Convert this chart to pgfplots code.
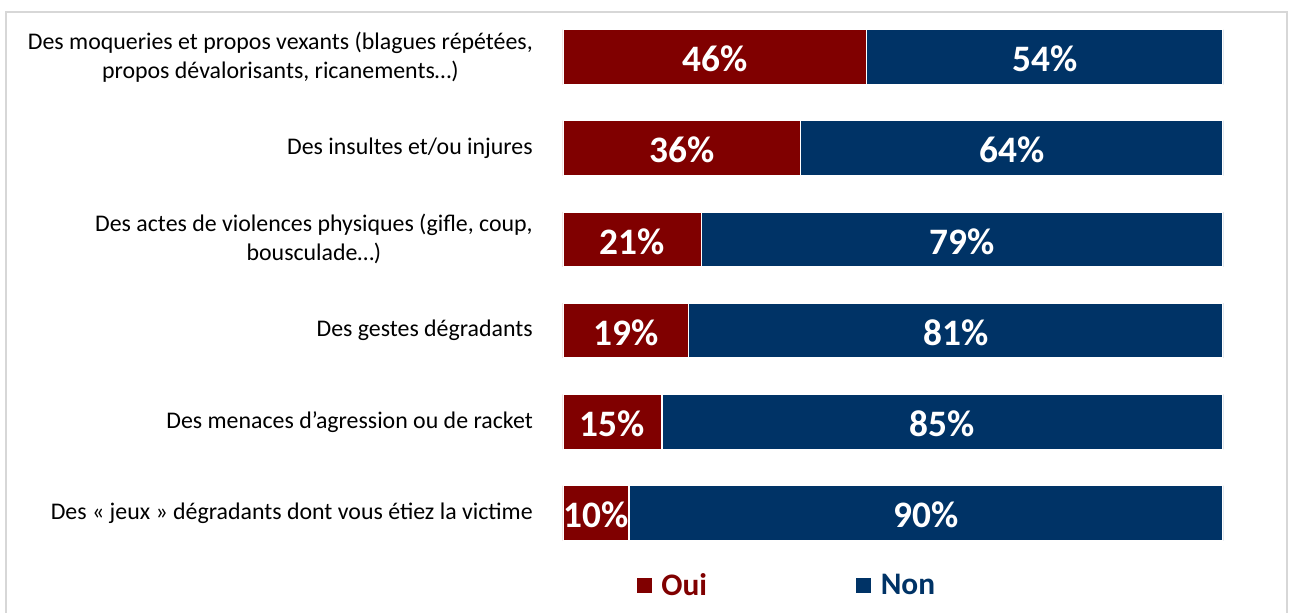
\documentclass[border=0pt]{standalone}
\usepackage{fontspec}
\setmainfont{Carlito}
\usepackage{pgfplots}
\pgfplotsset{compat=1.18}
\usepackage{pgfplotstable}
\definecolor{ouired}{RGB}{128,0,0}
\definecolor{nonblue}{RGB}{0,51,102}
\definecolor{framegray}{RGB}{215,215,215}

\pgfplotstableread{
y oui non
0 46 54
1 36 64
2 21 79
3 19 81
4 15 85
5 10 90
}\data

\pgfplotsset{
  common/.style={
    at={(422.25pt,-418.95pt)}, anchor=south west,
    scale only axis, width=495pt, height=410.4pt,
    xmin=0, xmax=100, ymin=-0.5, ymax=5.5, y dir=reverse,
  }
}

\begin{document}
\begin{tikzpicture}
\path[use as bounding box] (0,0) rectangle (967.5pt,-459pt);
\draw[framegray, line width=1.5pt] (4.5pt,-460pt) -- (4.5pt,-9pt) -- (965.25pt,-9pt) -- (965.25pt,-460pt);

\begin{axis}[common,
  xbar stacked, bar width=41.25pt,
  axis line style={draw=none},
  xtick=\empty, ytick={0,...,5}, major tick length=0pt,
  yticklabels={
    {Des moqueries et propos vexants (blagues répétées,\\propos dévalorisants, ricanements…)},
    {Des insultes et/ou injures},
    {Des actes de violences physiques (gifle, coup,\\bousculade…)},
    {Des gestes dégradants},
    {Des menaces d’agression ou de racket},
    {Des « jeux » dégradants dont vous étiez la victime}},
  yticklabel style={font=\fontsize{17.9}{21.75}\selectfont, align=center, inner sep=0pt, xshift=-22.5pt},
  legend columns=2,
  legend style={draw=none, fill=none, at={(0.340,-0.049)}, anchor=center,
    font=\fontsize{23.5}{28}\selectfont\bfseries,
    /tikz/every odd column/.append style={column sep=5pt},
    /tikz/every even column/.append style={column sep=110pt}},
  legend image code/.code={\fill[#1, draw=none] (0pt,-5.6pt) rectangle (11.25pt,5.6pt);},
]
\addplot[fill=ouired, draw=white, line width=1pt] table[x=oui, y=y]{\data};
\addlegendentry{\textcolor{ouired}{Oui}}
\addplot[fill=nonblue, draw=white, line width=1pt] table[x=non, y=y]{\data};
\addlegendentry{\textcolor{nonblue}{Non}}
\end{axis}

\begin{axis}[common, hide axis,
  nodes near coords={\pgfmathprintnumber[assume math mode=true]{\pgfplotspointmeta}\%},
  nodes near coords style={font=\fontsize{28}{33}\selectfont\bfseries, text=white, anchor=center, inner sep=0pt, yshift=-1.5pt},
]
\addplot[only marks, mark=none, point meta=explicit] table[x expr=\thisrow{oui}/2, y=y, meta=oui]{\data};
\addplot[only marks, mark=none, point meta=explicit] table[x expr=\thisrow{oui}+\thisrow{non}/2, y=y, meta=non]{\data};
\end{axis}
\end{tikzpicture}
\end{document}
